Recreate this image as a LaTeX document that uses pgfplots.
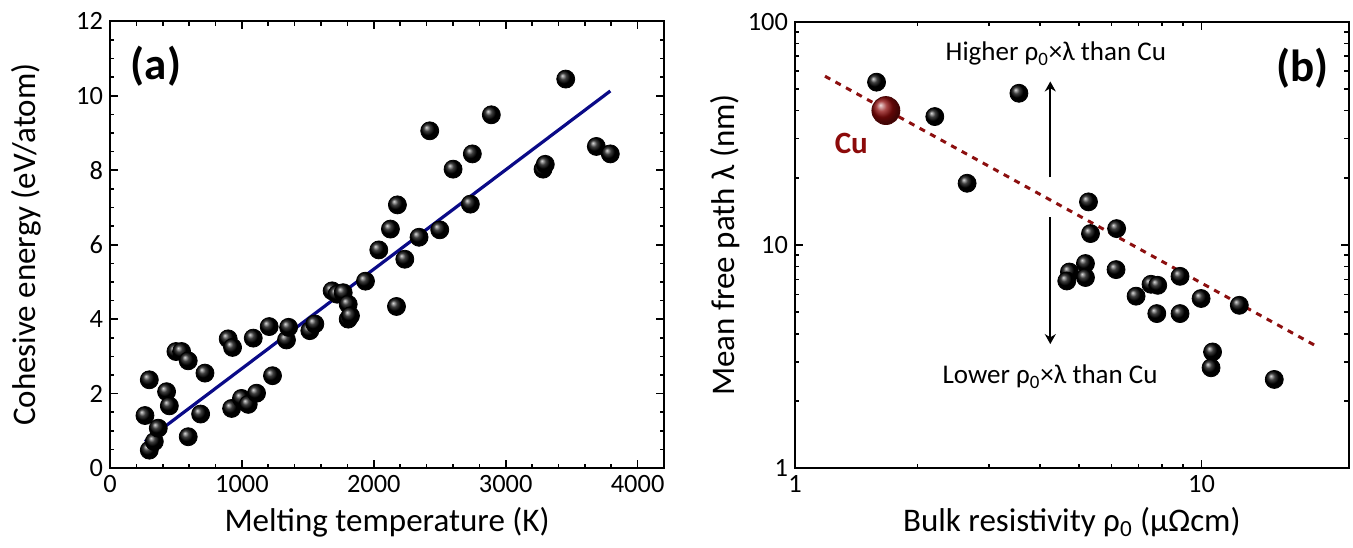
\documentclass[border=0pt]{standalone}
\usepackage{fontspec}
\setmainfont{Carlito}
\usepackage{pgfplots}
\pgfplotsset{compat=1.18}
\usetikzlibrary{arrows.meta,plotmarks}
\definecolor{navyline}{RGB}{10,10,135}
\definecolor{cured}{RGB}{140,10,10}
\definecolor{dashred}{RGB}{140,15,15}

\pgfplotstableread{
x y
265 1.41
298 2.37
298 0.48
336 0.71
366 1.07
429 2.05
450 1.67
500 3.13
543 3.13
593 2.88
593 0.84
687 1.45
720 2.55
896 3.47
929 3.24
922 1.60
997 1.87
1048 1.71
1086 3.49
1111 2.01
1207 3.80
1232 2.48
1338 3.44
1354 3.78
1515 3.69
1553 3.87
1684 4.76
1722 4.67
1768 4.71
1806 4.40
1806 4.00
1823 4.09
1937 5.02
2038 5.86
2172 4.34
2235 5.61
2126 6.42
2179 7.07
2343 6.20
2500 6.40
2424 9.06
2601 8.03
2747 8.44
2732 7.09
2891 9.49
3283 8.03
3300 8.16
3455 10.45
3687 8.64
3793 8.44
}\cohesive

\pgfplotstableread{
x y
1.587 53.6
2.207 37.6
3.554 47.8
2.65 18.9
5.27 15.6
5.33 11.25
6.18 11.84
4.73 7.57
4.66 6.90
5.18 8.26
5.18 7.15
6.16 7.76
6.90 5.90
7.51 6.67
7.80 6.60
7.76 4.93
8.85 4.93
8.85 7.24
9.97 5.76
12.38 5.37
10.64 3.32
10.55 2.82
15.09 2.50
}\mfp

\begin{document}
\begin{tikzpicture}
\useasboundingbox (0pt,0pt) rectangle (676.5pt,273.5pt);
\pgfplotsset{
  every axis/.append style={
    scale only axis,
    axis line style={line width=1pt},
    every tick/.append style={line width=0.8pt, black},
    major tick length=4pt, minor tick length=2.2pt,
    tick label style={font=\fontsize{13.2}{15}\selectfont},
    label style={font=\fontsize{16.5}{19}\selectfont},
    /pgf/number format/assume math mode=true,
    /pgf/number format/1000 sep={},
  },
}
\begin{axis}[
  at={(55pt,39.5pt)}, anchor=south west, width=277pt, height=223.3pt,
  xmin=0, xmax=4200, ymin=0, ymax=12,
  xtick={0,1000,2000,3000,4000}, minor x tick num=4,
  ytick={0,2,4,6,8,10,12}, minor y tick num=3,
  xlabel={Melting temperature (K)},
  ylabel={Cohesive energy (eV/atom)},
  xlabel style={at={(axis description cs:0.5,-0.121)}, anchor=center},
  ylabel style={at={(axis description cs:-0.152,0.5)}, anchor=center},
]
\addplot[only marks, black, mark=ball, mark size=4.5pt, mark options={ball color=black}] table {\cohesive};
\addplot[navyline, line width=1.6pt] coordinates {(265,0.71) (3793,10.13)};
\node[font=\fontsize{22.5}{26}\selectfont\bfseries] at (axis cs:348,10.8) {(a)};
\end{axis}

\begin{axis}[
  at={(397.5pt,39.35pt)}, anchor=south west, width=276.85pt, height=223.3pt,
  xmode=log, ymode=log,
  xmin=1, xmax=23, ymin=1, ymax=100,
  xtick={1,10}, xticklabels={1,10},
  ytick={1,10,100}, yticklabels={1,10,100},
  xlabel={Bulk resistivity ρ\textsubscript{0} (μΩcm)},
  ylabel={Mean free path λ (nm)},
  xlabel style={at={(axis description cs:0.5,-0.121)}, anchor=center},
  ylabel style={at={(axis description cs:-0.126,0.5)}, anchor=center},
]
\addplot[only marks, black, mark=ball, mark size=4.5pt, mark options={ball color=black}] table {\mfp};
\addplot[dashred, line width=1.5pt, dash pattern=on 3pt off 3pt] coordinates {(1.185,57.0) (19.4,3.48)};
\addplot[only marks, cured!50!black, mark=ball, mark size=7pt, mark options={ball color=cured}] coordinates {(1.673,40.0)};
\addplot[black, line width=1pt, -{Stealth[length=5pt,width=5.5pt]}] coordinates {(4.245,20.1) (4.245,54.0)};
\addplot[black, line width=1pt, -{Stealth[length=5pt,width=5.5pt]}] coordinates {(4.245,13.3) (4.245,3.6)};
\node[font=\fontsize{13.5}{16}\selectfont] at (axis cs:4.38,71.8) {Higher ρ\textsubscript{0}×λ than Cu};
\node[font=\fontsize{13.5}{16}\selectfont] at (axis cs:4.24,2.57) {Lower ρ\textsubscript{0}×λ than Cu};
\node[font=\fontsize{15.5}{18}\selectfont\bfseries, text=cured] at (axis cs:1.376,28.6) {Cu};
\node[font=\fontsize{22.5}{26}\selectfont\bfseries] at (axis cs:17.67,61.7) {(b)};
\end{axis}
\end{tikzpicture}
\end{document}
